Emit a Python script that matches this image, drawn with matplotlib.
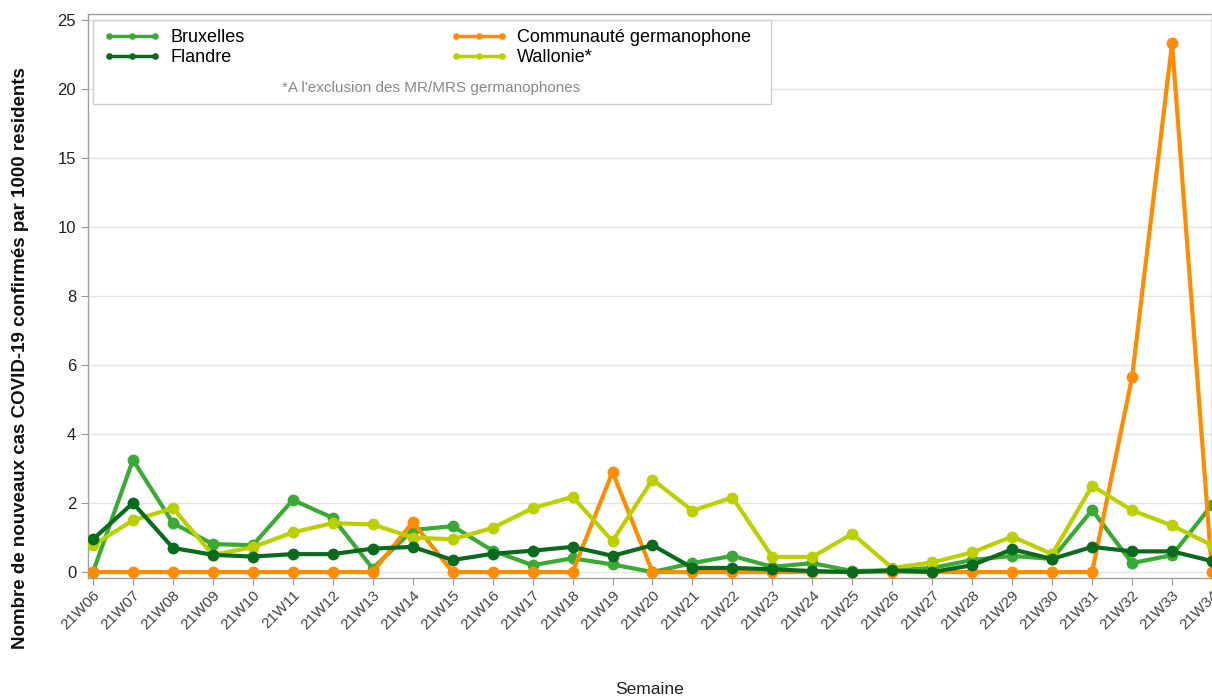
import numpy as np
import matplotlib
matplotlib.use("Agg")
import matplotlib.pyplot as plt
from matplotlib.patches import Rectangle

plt.rcParams['font.family'] = ['Liberation Sans', 'DejaVu Sans']

# semaines 21W06 .. 21W34
semaines = ["21W%02d" % w for w in range(6, 35)]

bruxelles = [0.0, 3.25, 1.42, 0.81, 0.78, 2.09, 1.57, 0.10, 1.22, 1.33,
             0.62, 0.20, 0.40, 0.22, 0.0, 0.26, 0.47, 0.15, 0.26, 0.03,
             0.05, 0.12, 0.35, 0.47, 0.38, 1.80, 0.26, 0.49, 1.95]
flandre = [0.95, 2.0, 0.70, 0.50, 0.45, 0.52, 0.52, 0.68, 0.73, 0.35,
           0.53, 0.62, 0.73, 0.47, 0.78, 0.12, 0.12, 0.08, 0.03, 0.0,
           0.05, 0.0, 0.20, 0.66, 0.38, 0.73, 0.60, 0.60, 0.32]
germanophone = [0.0, 0.0, 0.0, 0.0, 0.0, 0.0, 0.0, 0.0, 1.45, 0.0,
                0.0, 0.0, 0.0, 2.90, 0.0, 0.0, 0.0, 0.0, 0.0, 0.0,
                0.0, 0.0, 0.0, 0.0, 0.0, 0.0, 5.65, 23.3, 0.0]
wallonie = [0.78, 1.50, 1.85, 0.50, 0.72, 1.15, 1.42, 1.38, 1.00, 0.95,
            1.28, 1.85, 2.18, 0.90, 2.68, 1.78, 2.16, 0.44, 0.44, 1.11,
            0.12, 0.28, 0.57, 1.03, 0.52, 2.50, 1.79, 1.35, 0.78]

y_ticks = [0, 2, 4, 6, 8, 10, 15, 20, 25]

series = [
    ("Bruxelles", bruxelles, "#3aaa35"),
    ("Communauté germanophone", germanophone, "#ff8c00"),
    ("Flandre", flandre, "#0a6b1e"),
    ("Wallonie*", wallonie, "#bcd000"),
]
draw_order = ["Bruxelles", "Communauté germanophone", "Wallonie*", "Flandre"]


# axe y : lineaire jusqu'a 10, compresse au-dela
def fwd(y):
    y = np.asarray(y, dtype=float)
    return np.where(y <= 10, y, 10 + (y - 10) / 2.5)


def inv(t):
    t = np.asarray(t, dtype=float)
    return np.where(t <= 10, t, 10 + (t - 10) * 2.5)


fig = plt.figure(figsize=(12.12, 6.98), dpi=100)
ax = fig.add_axes([0.0726, 0.172, 0.9274, 0.808])
ax.set_yscale('function', functions=(fwd, inv))

x = np.arange(len(semaines))
lookup = {name: (vals, col) for name, vals, col in series}
handles = {}
for name in draw_order:
    vals, col = lookup[name]
    h, = ax.plot(x, vals, color=col, lw=3, marker='o', ms=7.5,
                 solid_joinstyle='round', clip_on=True, zorder=3)
    handles[name] = h

ax.set_xlim(-0.125, 27.93)
ax.set_ylim(-0.17, 25.43)
ax.set_yticks(y_ticks)
ax.set_yticklabels([str(v) for v in y_ticks], fontsize=12, color='#222222')
ax.set_xticks(x)
ax.set_xticklabels(semaines, rotation=45, ha='right', va='top',
                   rotation_mode='anchor', fontsize=11, color='#444444')
ax.tick_params(axis='both', length=5, color='#999999', width=0.8)
ax.tick_params(axis='x', pad=2)
ax.grid(axis='y', color='#e3e3e3', lw=1)
ax.set_axisbelow(True)
for sp in ax.spines.values():
    sp.set_color('#a0a0a0')
    sp.set_linewidth(1)

ax.set_xlabel("Semaine", fontsize=12.5, color='#222222', labelpad=36)
ax.set_ylabel("Nombre de nouveaux cas COVID-19 confirmés par 1000 residents",
              fontsize=13.5, fontweight='bold', color='#111111')
ax.yaxis.set_label_coords(-0.0525, 0.39)

# legende
fig.patches.append(Rectangle((93 / 1212, 1 - 104 / 698), (771 - 93) / 1212,
                             (104 - 20) / 698, transform=fig.transFigure,
                             fill=True, facecolor='white', edgecolor='#cccccc',
                             lw=1, zorder=5))
leg_names = ["Bruxelles", "Flandre", "Communauté germanophone", "Wallonie*"]
leg = fig.legend([handles[n] for n in leg_names], leg_names, ncol=2,
                 loc='upper left', bbox_to_anchor=(96 / 1212, 1 - 22 / 698),
                 frameon=False, fontsize=13, numpoints=3, markerscale=0.5,
                 handlelength=3.15, handletextpad=0.55, columnspacing=11.4,
                 labelspacing=0.15, borderaxespad=0)
for ln in leg.get_lines():
    ln.set_linewidth(2.5)
leg.set_zorder(6)
fig.text(431 / 1212, 1 - 88 / 698, "*A l'exclusion des MR/MRS germanophones",
         ha='center', va='center', fontsize=11, color='#888888', zorder=6)

fig.savefig("out.png", dpi=100)
